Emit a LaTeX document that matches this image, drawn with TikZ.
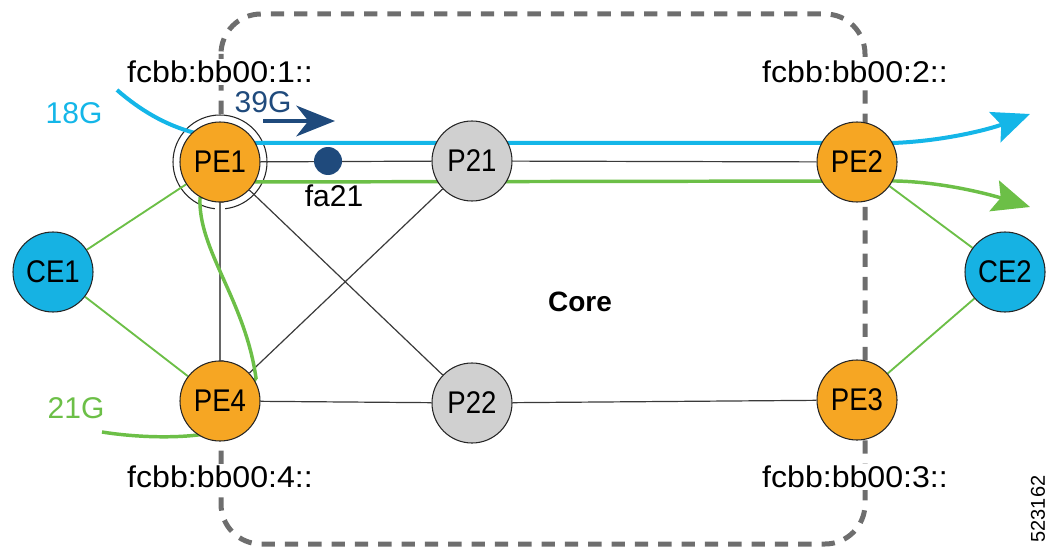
\documentclass[tikz,border=0pt]{standalone}
\usepackage{fontspec}
\setmainfont{Liberation Sans}
\newfontfamily\nodefont[FakeStretch=0.88]{Liberation Sans}
\newfontfamily\addrfont[FakeStretch=1.07]{Liberation Sans}
\usetikzlibrary{arrows.meta,backgrounds}
\definecolor{peorange}{HTML}{F6A623}
\definecolor{cenode}{HTML}{16B2E3}
\definecolor{pgray}{HTML}{D0D0D0}
\definecolor{flowcyan}{HTML}{14B6E8}
\definecolor{flowgreen}{HTML}{6CBF47}
\definecolor{navy}{HTML}{1F4A7C}
\definecolor{boxgray}{HTML}{6E6E6E}
\definecolor{linkgray}{HTML}{3A3A3A}
\tikzset{
  bigtip/.tip={Stealth[length=28pt,width=24pt,inset=5pt]},
  navytip/.tip={Stealth[length=29pt,width=23pt,inset=9pt]},
  router/.style={circle,draw=black!85,line width=0.8pt,minimum size=60pt,inner sep=0pt,
    font=\nodefont\fontsize{23.5}{25}\selectfont},
  penode/.style={router,fill=peorange},
  pnode/.style={router,fill=pgray},
  cenodes/.style={router,fill=cenode},
  ringnode/.style={circle,draw=black!85,line width=0.8pt,minimum size=70.5pt,inner sep=0pt},
  addr/.style={fill=white,inner sep=1.5pt,font=\addrfont\fontsize{22.5}{24}\selectfont},
  txt/.style={inner sep=0pt,font=\fontsize{22.5}{24}\selectfont},
  corelink/.style={draw=linkgray,line width=0.9pt},
  celink/.style={draw=flowgreen,line width=1.4pt},
  boxline/.style={draw=boxgray,line width=3.75pt,dash pattern=on 10pt off 7.5pt,rounded corners=30pt},
  cyanflow/.style={draw=flowcyan,line width=3pt,-bigtip},
  greenflow/.style={draw=flowgreen,line width=2.6pt,-bigtip},
}
\begin{document}
\begin{tikzpicture}[x=0.75pt,y=-0.75pt]
\useasboundingbox (0,0) rectangle (1055,549);

% nodes
\node[penode] (PE1) at (220,162) {PE1};
\node[pnode] (P21) at (472,161) {P21};
\node[penode] (PE2) at (857,162) {PE2};
\node[cenodes] (CE1) at (53,272) {CE1};
\node[cenodes] (CE2) at (1005,272) {CE2};
\node[penode] (PE4) at (220,401) {PE4};
\node[pnode] (P22) at (472,403) {P22};
\node[penode] (PE3) at (857,400) {PE3};
\node[circle,fill=navy,minimum size=21pt,inner sep=0pt] (fa) at (328,161) {};

% labels
\node[addr] (L1) at (220,72) {fcbb:bb00:1::};
\node[addr] (L2) at (855,72) {fcbb:bb00:2::};
\node[addr] (L4) at (220,477) {fcbb:bb00:4::};
\node[addr] (L3) at (855,477) {fcbb:bb00:3::};
\node[txt,font=\bfseries\fontsize{21}{24}\selectfont] (core) at (580,302) {Core};
\node[txt,text=flowcyan] (t18) at (74,113) {18G};
\node[txt,text=flowgreen] (t21) at (76,408) {21G};
\node[txt,text=navy] (t39) at (263,102) {39G};
\node[txt] (tfa) at (334,196) {fa21};
\node[inner sep=0pt,rotate=90,font=\fontsize{15}{16}\selectfont] (fig) at (1038,509) {523162};

% flow end points
\coordinate (cyanstart) at (117,90);
\coordinate (cyanend) at (1030,114);
\coordinate (greenstart) at (102,432);
\coordinate (greenend) at (1030,207);
\coordinate (a39s) at (263,121);
\coordinate (a39e) at (335,121);

\draw[navy,line width=3pt,-navytip] (a39s) -- (a39e);

\begin{scope}[on background layer]
  \draw[boxline] (221,14) rectangle (865,544);
  \node[ringnode] (PE1ring) at (PE1) {};
  % core links
  \draw[corelink] (PE1) -- (P21);
  \draw[corelink] (P21) -- (PE2);
  \draw[draw=white,line width=8pt] (PE1) -- (PE4);
  \draw[corelink,draw=black!60,line width=1.2pt] (PE1) -- (PE4);
  \draw[corelink] (PE1) -- (P22);
  \draw[corelink] (PE4) -- (P21);
  \draw[corelink] (PE4) -- (P22);
  \draw[corelink] (P22) -- (PE3);
  % access links
  \draw[celink] (CE1) -- (PE1);
  \draw[celink] (CE1) -- (PE4);
  \draw[celink] (PE2) -- (CE2);
  \draw[celink] (PE3) -- (CE2);
  % flows
  \draw[cyanflow] (cyanstart) .. controls (140,110) and (165,125) .. (195,133)
     -- (225,143) -- (857,143) -- (893,143)
     .. controls (945,141) and (990,129) .. (cyanend);
  \draw[greenflow] (greenstart) .. controls (140,438) and (180,438) .. (205,434)
     -- (225,420) -- (256,378)
     .. controls (245,300) and (198,250) .. (200,198)
     -- (222,182) -- (857,181) -- (896,181)
     .. controls (940,182) and (985,193) .. (greenend);
\end{scope}
\end{tikzpicture}
\end{document}
